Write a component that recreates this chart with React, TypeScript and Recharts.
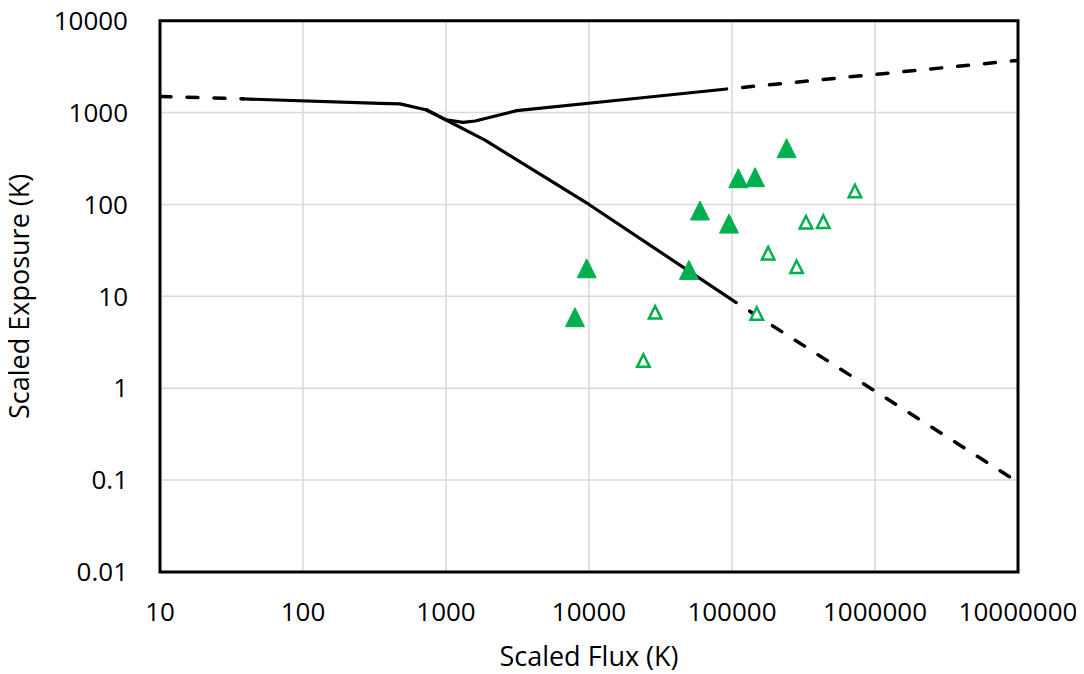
import React from 'react';
import { ScatterChart, Scatter, XAxis, YAxis, CartesianGrid, ReferenceArea, Label } from 'recharts';

const xTicks = [10, 100, 1000, 10000, 100000, 1000000, 10000000];
const yTicks = [0.01, 0.1, 1, 10, 100, 1000, 10000];

const leftDashed = [{ x: 10, y: 1500 }, { x: 38, y: 1410 }];
const sharedSolid = [{ x: 38, y: 1410 }, { x: 345, y: 1262 }, { x: 477, y: 1242 }, { x: 733, y: 1067 }];
const upperSolid = [
  { x: 733, y: 1067 }, { x: 1000, y: 832 }, { x: 1320, y: 783 }, { x: 1600, y: 810 },
  { x: 3120, y: 1050 }, { x: 19400, y: 1406 }, { x: 91800, y: 1807 },
];
const upperDashed = [{ x: 91800, y: 1807 }, { x: 10000000, y: 3700 }];
const lowerSolid = [{ x: 733, y: 1067 }, { x: 1874, y: 501 }, { x: 10000, y: 100 }, { x: 107000, y: 8.55 }];
const lowerDashed = [{ x: 107000, y: 8.55 }, { x: 10000000, y: 0.095 }];

const filledPoints = [
  { x: 241000, y: 410 }, { x: 110700, y: 193 }, { x: 145000, y: 198 }, { x: 59700, y: 86 },
  { x: 95300, y: 62 }, { x: 9640, y: 20.2 }, { x: 50000, y: 19.4 }, { x: 7980, y: 5.93 },
];
const hollowPoints = [
  { x: 724000, y: 140 }, { x: 329000, y: 64 }, { x: 435000, y: 65 }, { x: 179000, y: 29.5 },
  { x: 283000, y: 21 }, { x: 29000, y: 6.7 }, { x: 149000, y: 6.5 }, { x: 24000, y: 2.0 },
];

const GREEN = '#00B050';
const FONT = "'Open Sans', sans-serif";

const triPoints = (cx: number, cy: number, w: number, h: number) =>
  `${cx},${cy - h / 2} ${cx - w / 2},${cy + h / 2} ${cx + w / 2},${cy + h / 2}`;

const FilledTri = (p: any) => (
  <polygon points={triPoints(p.cx, p.cy, 19, 19)} fill={GREEN} stroke={GREEN} strokeWidth={1} strokeLinejoin="round" />
);
const HollowTri = (p: any) => (
  <polygon points={triPoints(p.cx, p.cy, 12.5, 12.5)} fill="#fff" stroke={GREEN} strokeWidth={2.5} />
);
const NoShape = () => <g />;

const solidLine = { stroke: '#000', strokeWidth: 3.2, strokeLinejoin: 'round' as const, strokeLinecap: 'round' as const };
const dashLine = { stroke: '#000', strokeWidth: 3.5, strokeDasharray: '11 16', strokeLinecap: 'round' as const };
const dashLineGapFirst = { ...dashLine, strokeDashoffset: 11 };

export default function App() {
  return (
    <div style={{ margin: '-8px 0 0 -8px', width: 1084, height: 674 }}>
      <ScatterChart width={1084} height={674} margin={{ top: 20.7, right: 66, bottom: 0, left: 0 }}>
        <CartesianGrid stroke="#d9d9d9" strokeWidth={1.5} />
        <XAxis
          type="number"
          dataKey="x"
          scale="log"
          domain={[10, 10000000]}
          ticks={xTicks}
          allowDataOverflow
          axisLine={false}
          tickLine={false}
          tickSize={0}
          tickMargin={31}
          height={102}
          interval={0}
          tickFormatter={(v: number) => String(v)}
          tick={{ fill: '#000', fontSize: 26, fontFamily: FONT }}
        >
          <Label value="Scaled Flux (K)" position="insideBottom" offset={8} style={{ fill: '#000', fontSize: 27, fontFamily: FONT }} />
        </XAxis>
        <YAxis
          type="number"
          dataKey="y"
          scale="log"
          domain={[0.01, 10000]}
          ticks={yTicks}
          allowDataOverflow
          axisLine={false}
          tickLine={false}
          tickSize={0}
          tickMargin={32}
          width={160}
          interval={0}
          tickFormatter={(v: number) => String(v)}
          tick={{ fill: '#000', fontSize: 26, fontFamily: FONT }}
        >
          <Label
            value="Scaled Exposure (K)"
            angle={-90}
            position="insideLeft"
            offset={19}
            style={{ fill: '#000', fontSize: 27, fontFamily: FONT, textAnchor: 'middle' }}
          />
        </YAxis>
        <Scatter data={leftDashed} line={dashLine} lineType="joint" shape={NoShape} isAnimationActive={false} legendType="none" />
        <Scatter data={sharedSolid} line={solidLine} lineType="joint" shape={NoShape} isAnimationActive={false} legendType="none" />
        <Scatter data={upperSolid} line={solidLine} lineType="joint" shape={NoShape} isAnimationActive={false} legendType="none" />
        <Scatter data={upperDashed} line={dashLineGapFirst} lineType="joint" shape={NoShape} isAnimationActive={false} legendType="none" />
        <Scatter data={lowerSolid} line={solidLine} lineType="joint" shape={NoShape} isAnimationActive={false} legendType="none" />
        <Scatter data={lowerDashed} line={dashLineGapFirst} lineType="joint" shape={NoShape} isAnimationActive={false} legendType="none" />
        <Scatter data={filledPoints} shape={FilledTri} fill={GREEN} isAnimationActive={false} legendType="none" />
        <Scatter data={hollowPoints} shape={HollowTri} fill={GREEN} isAnimationActive={false} legendType="none" />
        <ReferenceArea
          x1={10}
          x2={10000000}
          y1={0.01}
          y2={10000}
          ifOverflow="visible"
          fill="none"
          fillOpacity={0}
          stroke="#000"
          strokeWidth={3}
        />
      </ScatterChart>
    </div>
  );
}
